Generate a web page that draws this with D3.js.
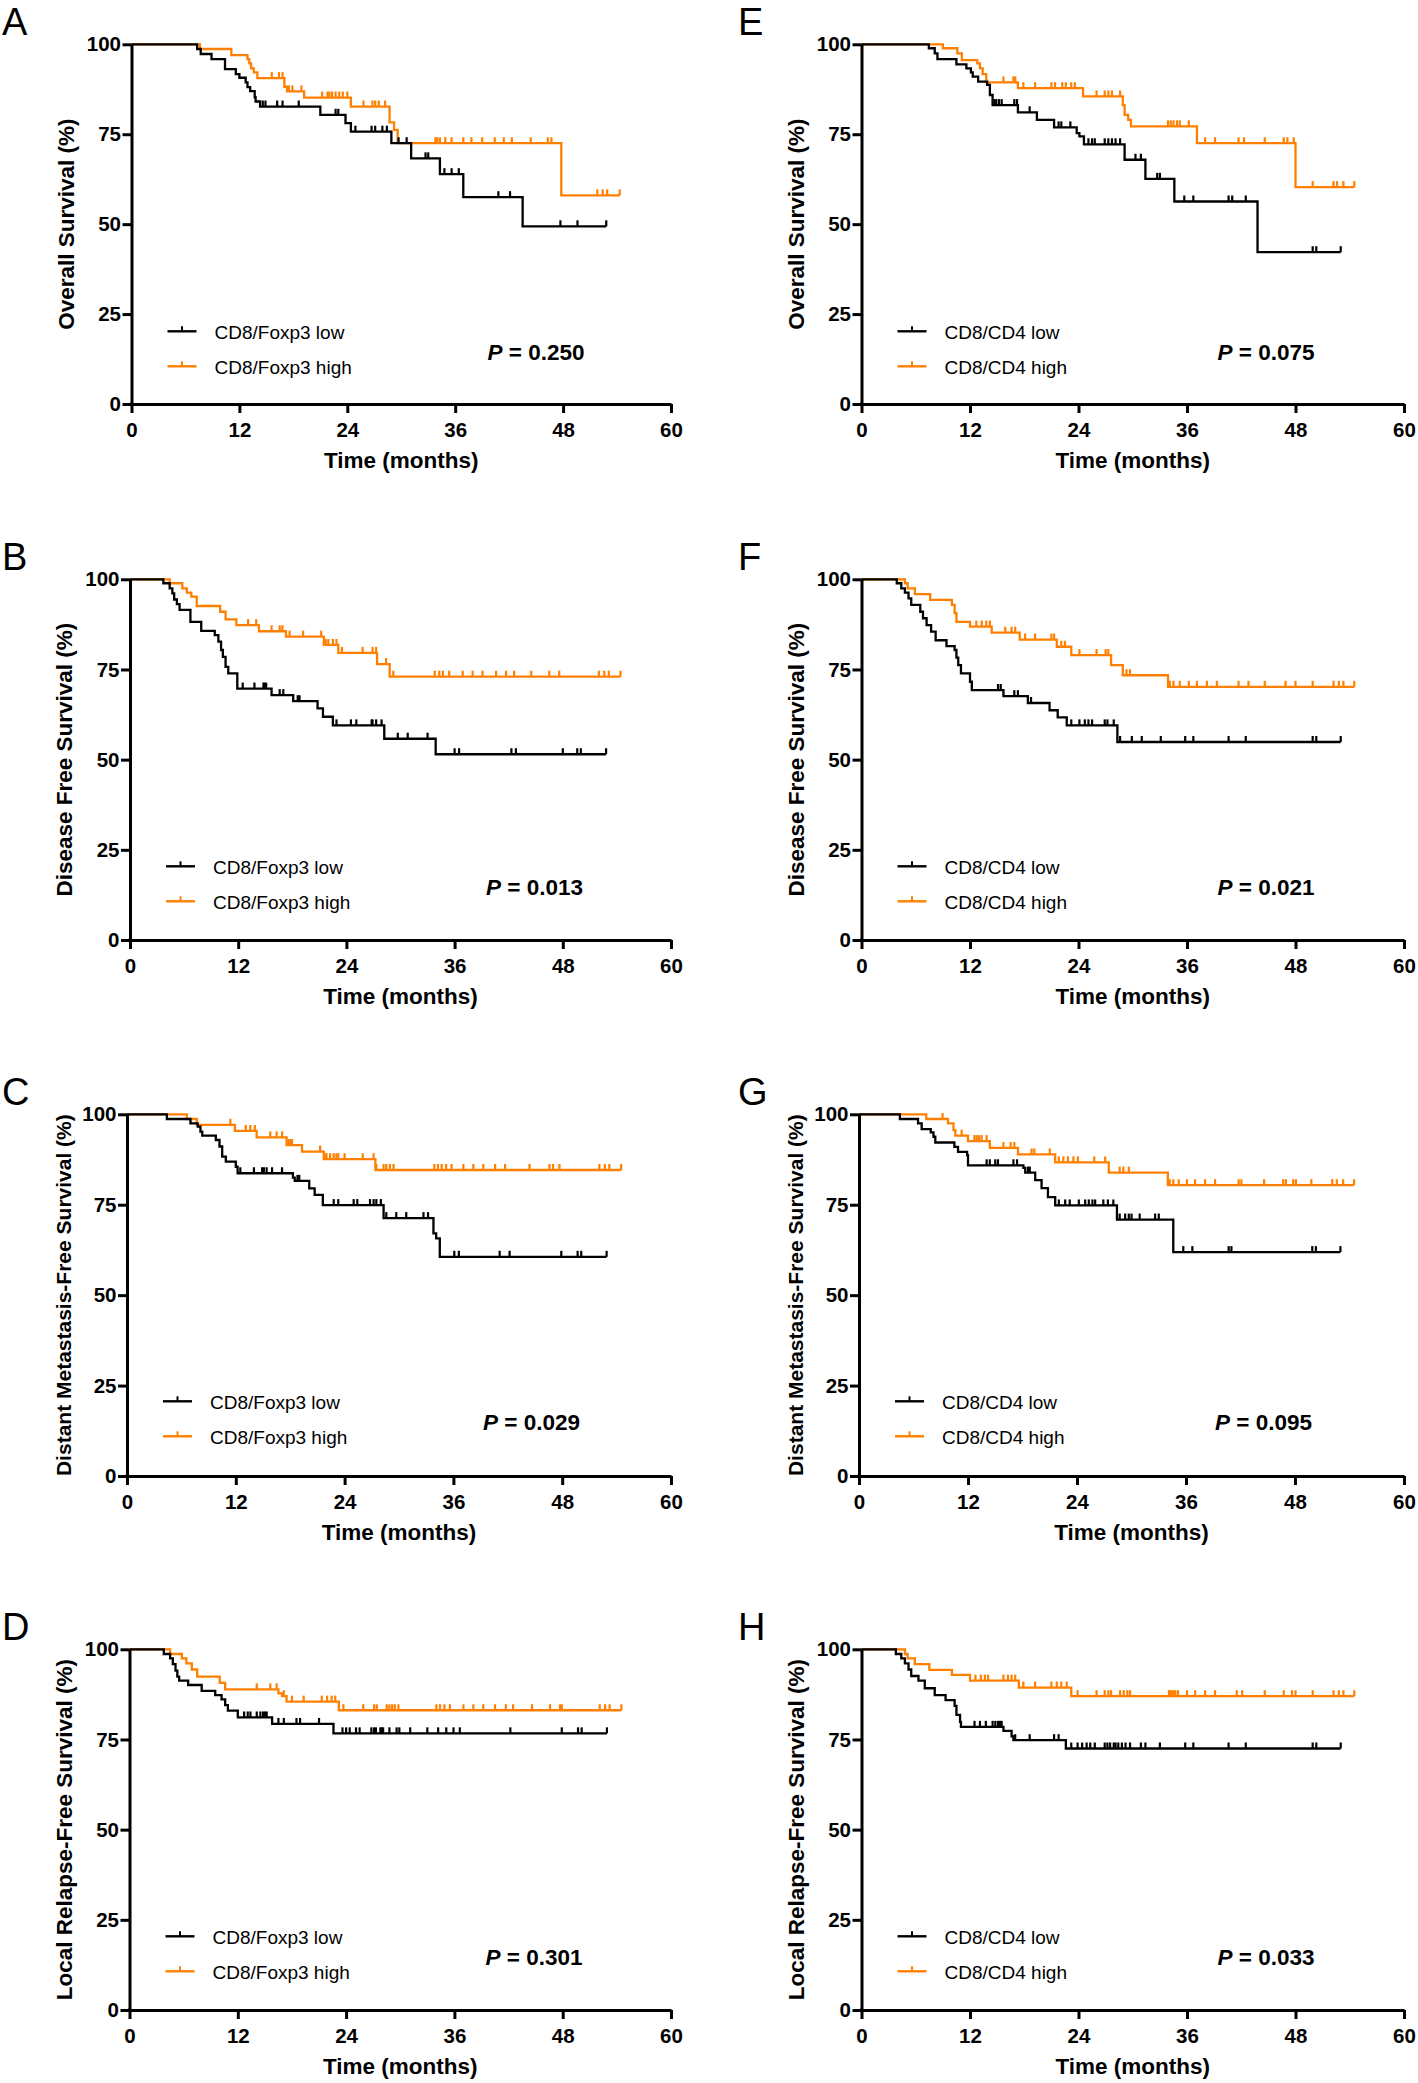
<!DOCTYPE html>
<html><head><meta charset="utf-8">
<script src="https://cdn.jsdelivr.net/npm/d3@7"></script>
<style>
body{margin:0;background:#fff}
svg{display:block}
text{font-family:"Liberation Sans",Arial,Helvetica,sans-serif;fill:#000}
</style>
</head><body>
<svg id="chart" width="1418" height="2083"></svg>
<script>
// ---------------- DATA ----------------
const xTicks = [0, 12, 24, 36, 48, 60];
const yTicks = [0, 25, 50, 75, 100];
const panelLetters = ["A", "B", "C", "D", "E", "F", "G", "H"];
const yTitles = ["Overall Survival (%)", "Disease Free Survival (%)", "Distant Metastasis-Free Survival (%)", "Local Relapse-Free Survival (%)"];
const legendLowLabels = ["CD8/Foxp3 low", "CD8/CD4 low"];
const legendHighLabels = ["CD8/Foxp3 high", "CD8/CD4 high"];
const pValues = ["0.250", "0.013", "0.029", "0.301", "0.075", "0.021", "0.095", "0.033"];

// steps: [time (months), survival (%) after the event]; cens: censor times; end: last follow-up
const A_lowSteps = [[7.3,98.7],[7.7,97.3],[8.9,95.9],[10.4,93.1],[11.6,91.7],[12.0,90.7],[12.7,89.4],[12.9,88.1],[13.2,87.0],[13.7,85.3],[13.8,84.1],[14.3,82.7],[21.0,80.4],[23.8,78.1],[24.4,75.7],[28.9,72.5],[31.1,68.3],[34.3,63.9],[36.9,57.5],[43.5,49.4]];
const A_lowCens = [14.6,14.9,16.2,16.8,18.6,22.7,23.0,24.9,26.7,27.1,27.9,28.4,29.7,30.6,32.7,33.0,34.8,35.6,36.4,40.8,42.1,47.7,49.6];
const A_lowEnd = 52.8;
const A_highSteps = [[7.6,98.7],[11.1,97.0],[12.9,95.9],[13.1,94.7],[13.3,93.3],[13.6,92.2],[14.0,90.6],[17.0,88.2],[17.3,86.9],[19.2,85.2],[24.4,82.7],[28.7,78.3],[29.2,76.2],[29.6,72.5],[47.8,58.0]];
const A_highCens = [15.6,16.4,16.8,17.5,17.9,18.9,21.2,21.8,22.0,22.3,22.7,23.1,23.5,24.0,25.8,26.8,27.1,27.5,28.2,33.8,34.0,34.3,34.9,35.6,36.9,37.8,39.0,40.4,41.4,42.3,44.4,46.3,46.7,51.8,52.4,52.9];
const A_highEnd = 54.3;

const B_lowSteps = [[3.7,98.9],[4.4,97.5],[4.7,96.1],[4.9,94.4],[5.2,93.1],[5.5,91.5],[6.7,88.2],[7.9,85.7],[9.4,84.5],[9.8,82.7],[10.1,80.4],[10.3,78.5],[10.6,75.7],[10.9,73.9],[11.9,69.7],[15.7,67.9],[18.1,66.2],[20.8,64.2],[21.4,61.9],[22.5,59.5],[28.2,55.8],[33.9,51.5]];
const B_lowCens = [12.5,13.8,14.8,14.9,15.1,16.6,17.0,18.6,18.8,22.9,24.5,25.1,26.8,26.9,27.3,27.9,29.7,30.8,33.0,36.0,36.5,42.3,42.8,48.0,49.6,50.0];
const B_lowEnd = 52.8;
const B_highSteps = [[4.4,98.9],[5.8,97.5],[6.3,96.3],[6.8,95.2],[7.4,92.6],[10.0,91.0],[10.6,88.9],[11.8,87.3],[14.3,85.6],[17.3,84.1],[21.5,81.8],[23.1,79.6],[27.4,76.5],[28.8,73.0]];
const B_highCens = [13.1,14.0,15.7,16.6,16.9,17.7,19.2,21.2,21.7,22.0,22.5,22.9,23.5,25.8,26.9,27.3,28.4,29.2,33.8,34.3,34.7,35.4,36.9,38.0,39.1,40.6,41.7,42.6,44.5,46.5,47.6,52.0,52.6,53.1];
const B_highEnd = 54.4;

const C_lowSteps = [[4.4,98.7],[7.0,97.5],[7.8,96.6],[8.1,95.2],[8.3,94.1],[9.8,92.9],[10.2,91.1],[10.5,88.3],[10.9,86.9],[12.0,85.5],[12.2,83.7],[18.3,82.5],[18.5,81.6],[20.1,79.5],[20.7,77.7],[21.6,74.9],[28.3,71.3],[33.8,67.1],[34.1,65.7],[34.5,60.6]];
const C_lowCens = [12.5,14.0,14.9,15.1,15.4,16.0,17.1,18.8,19.0,22.8,23.3,25.0,25.4,26.8,27.2,27.5,28.0,28.6,29.7,30.8,32.7,33.2,36.1,36.6,41.1,42.2,47.9,49.7,50.1];
const C_lowEnd = 52.9;
const C_highSteps = [[6.6,98.7],[7.7,97.1],[11.9,95.4],[14.3,93.6],[17.6,91.5],[19.3,89.7],[21.7,87.6],[27.4,84.6]];
const C_highCens = [11.4,13.1,13.6,14.1,15.8,16.5,17.1,17.8,18.0,18.2,21.3,21.8,22.0,22.4,22.8,23.1,23.3,24.0,26.0,27.2,27.5,28.3,28.6,29.0,29.4,33.9,34.3,34.7,35.2,35.8,37.1,38.2,39.3,40.6,41.7,44.4,46.6,47.0,47.7,52.1,52.7,53.2];
const C_highEnd = 54.5;

const D_lowSteps = [[3.8,98.7],[4.5,97.5],[4.8,95.9],[5.1,94.1],[5.3,92.4],[5.5,91.3],[6.5,90.1],[8.0,88.5],[9.5,87.3],[10.2,86.1],[10.6,84.5],[10.9,83.0],[12.0,81.1],[15.8,79.3],[22.6,76.7]];
const D_lowCens = [12.7,13.1,13.4,14.1,14.5,14.8,15.0,15.2,16.5,17.1,18.5,18.9,21.0,23.6,24.0,24.4,25.1,25.5,26.8,27.1,27.3,27.8,27.95,28.1,28.8,29.6,29.9,31.1,33.0,34.2,35.1,35.9,36.6,42.2,47.9,49.7,50.1];
const D_lowEnd = 52.9;
const D_highSteps = [[4.5,98.7],[5.8,97.5],[6.3,96.1],[6.9,94.4],[7.5,92.4],[10.0,90.7],[10.6,88.9],[16.5,87.8],[16.9,87.0],[17.4,85.5],[23.2,83.1]];
const D_highCens = [14.1,15.6,16.3,17.1,18.0,19.3,21.3,21.9,22.4,22.8,23.7,25.9,27.1,27.4,28.5,28.8,29.1,29.4,29.8,34.0,34.4,34.9,35.5,37.0,38.1,39.2,40.5,41.7,42.5,44.6,46.6,47.7,47.9,52.1,52.7,53.2];
const D_highEnd = 54.5;

const E_lowSteps = [[7.45,98.9],[8.1,97.5],[8.4,95.9],[10.5,94.4],[11.6,93.3],[12.1,92.2],[12.3,91.0],[12.9,89.6],[13.9,88.7],[14.2,85.9],[14.5,83.1],[17.3,81.1],[19.4,79.0],[21.3,76.9],[23.8,75.3],[24.1,74.4],[24.6,72.2],[29.1,67.9],[31.4,62.6],[34.6,56.3],[43.8,42.2]];
const E_lowCens = [14.7,14.9,15.2,15.5,16.9,17.2,18.6,21.8,22.1,23.1,25.1,25.5,25.8,26.9,27.3,27.7,28.1,28.6,30.3,30.9,32.7,33.0,35.7,36.7,40.6,41.0,42.5,49.9,50.3];
const E_lowEnd = 53.0;
const E_highSteps = [[9.0,98.9],[10.6,97.5],[11.1,95.6],[12.8,94.7],[13.1,93.3],[13.4,91.7],[13.8,89.4],[17.3,87.8],[24.5,85.5],[28.9,83.1],[29.1,80.4],[29.5,79.0],[29.8,77.2],[37.1,72.5],[48.0,60.3]];
const E_highCens = [15.7,16.8,17.0,17.9,19.2,21.0,21.4,22.2,22.6,23.2,23.6,26.0,26.9,27.3,27.7,28.6,33.9,34.2,34.5,34.9,35.2,36.2,38.0,39.1,41.7,42.3,44.6,46.7,47.1,47.8,49.9,52.2,52.6,53.3];
const E_highEnd = 54.5;

const F_lowSteps = [[3.9,98.9],[4.4,97.5],[4.8,96.3],[5.2,94.7],[5.5,92.9],[6.5,91.0],[6.8,89.2],[7.2,87.3],[7.7,85.5],[8.2,83.1],[9.4,81.5],[10.3,80.4],[10.5,78.3],[10.7,76.2],[11.0,73.9],[12.0,71.6],[12.2,69.3],[15.7,67.6],[18.4,65.7],[20.8,63.7],[21.7,61.7],[22.7,59.5],[28.3,54.9]];
const F_lowCens = [15.1,15.4,16.9,17.3,18.75,23.2,24.1,24.7,25.1,25.5,26.9,27.2,27.9,28.6,29.9,31.0,33.1,35.8,36.7,40.6,42.5,49.9,50.3];
const F_lowEnd = 53.0;
const F_highSteps = [[4.8,98.9],[5.1,97.5],[5.9,95.9],[7.6,94.3],[10.0,92.9],[10.3,90.6],[10.5,88.2],[12.0,86.9],[14.4,85.2],[17.5,83.3],[21.6,81.3],[23.2,79.0],[27.6,76.2],[28.9,73.4],[33.9,70.2]];
const F_highCens = [12.7,13.3,13.8,14.2,15.9,16.6,17.0,18.1,19.2,21.0,21.3,22.1,22.5,24.1,26.0,27.0,27.3,29.3,29.7,34.1,34.5,35.2,36.2,37.1,38.2,39.3,41.7,42.8,44.6,46.9,48.0,49.9,52.2,52.8,53.3];
const F_highEnd = 54.5;

const G_lowSteps = [[4.5,98.7],[6.5,97.5],[6.9,95.9],[7.9,95.0],[8.2,93.8],[8.4,92.2],[10.5,91.0],[10.9,89.6],[11.9,88.7],[12.0,85.9],[18.1,85.2],[18.3,83.9],[19.4,81.8],[20.1,79.6],[20.8,77.1],[21.6,74.8],[28.4,70.9],[34.6,61.9]];
const G_lowCens = [14.05,14.4,15.0,15.3,17.0,17.4,18.6,18.8,22.0,22.7,23.2,24.2,24.9,25.3,25.7,26.0,26.9,27.4,28.0,28.7,29.3,29.7,30.0,30.9,32.6,33.0,35.7,36.7,40.7,41.0,49.9,50.3];
const G_lowEnd = 53.0;
const G_highSteps = [[7.4,98.7],[9.8,97.5],[10.4,95.6],[10.6,94.1],[12.0,92.6],[14.4,90.7],[17.5,88.9],[21.6,86.7],[27.5,83.9],[34.0,80.4]];
const G_highCens = [9.2,11.3,12.7,12.95,13.2,13.5,14.05,15.9,16.7,17.1,19.0,19.3,21.0,22.0,22.5,23.0,23.6,24.1,25.9,27.1,28.7,29.1,29.7,34.2,34.6,35.2,36.1,37.0,38.1,39.2,41.8,42.1,44.6,46.7,47.0,47.8,48.1,49.8,52.1,52.6,53.3];
const G_highEnd = 54.5;

const H_lowSteps = [[3.8,98.7],[4.4,97.5],[4.8,96.1],[5.2,94.4],[5.5,92.6],[6.3,91.3],[7.0,89.2],[8.1,87.3],[9.3,85.9],[10.3,84.3],[10.5,81.8],[10.9,79.9],[11.0,78.5],[15.7,77.4],[16.6,75.9],[16.8,74.8],[22.6,72.5]];
const H_lowCens = [12.5,13.1,13.75,14.5,14.8,15.1,15.3,15.5,17.0,18.6,21.3,21.8,23.2,23.9,24.4,24.9,25.3,25.8,26.9,27.2,27.5,27.9,28.1,28.4,28.8,29.2,29.7,30.9,31.4,33.0,35.8,36.7,40.6,42.5,49.9,50.3];
const H_lowEnd = 53.0;
const H_highSteps = [[4.8,98.7],[5.1,97.5],[5.9,95.9],[7.5,94.3],[10.0,92.9],[12.0,91.3],[17.4,89.4],[23.2,87.0]];
const H_highCens = [12.6,13.2,13.65,14.0,15.7,16.2,16.6,17.0,17.9,19.2,21.0,21.6,22.1,22.7,23.9,26.0,26.9,27.3,27.6,28.6,29.0,29.4,29.7,34.0,34.1,34.3,34.5,34.7,35.0,36.0,36.9,38.0,39.1,41.5,42.1,44.6,46.7,47.6,48.0,49.9,52.2,52.8,53.3];
const H_highEnd = 54.5;

// table built from the arrays above
const panelData = [
  {low:[A_lowSteps,A_lowCens,A_lowEnd], high:[A_highSteps,A_highCens,A_highEnd]},
  {low:[B_lowSteps,B_lowCens,B_lowEnd], high:[B_highSteps,B_highCens,B_highEnd]},
  {low:[C_lowSteps,C_lowCens,C_lowEnd], high:[C_highSteps,C_highCens,C_highEnd]},
  {low:[D_lowSteps,D_lowCens,D_lowEnd], high:[D_highSteps,D_highCens,D_highEnd]},
  {low:[E_lowSteps,E_lowCens,E_lowEnd], high:[E_highSteps,E_highCens,E_highEnd]},
  {low:[F_lowSteps,F_lowCens,F_lowEnd], high:[F_highSteps,F_highCens,F_highEnd]},
  {low:[G_lowSteps,G_lowCens,G_lowEnd], high:[G_highSteps,G_highCens,G_highEnd]},
  {low:[H_lowSteps,H_lowCens,H_lowEnd], high:[H_highSteps,H_highCens,H_highEnd]}
];

// ---------------- LAYOUT ----------------
const svg = d3.select("#chart");
svg.append("rect").attr("width",1418).attr("height",2083).attr("fill","#fff");
const colX0 = [[131.5,130,127,129.5],[861.5,861.5,859,861.5]];
const colX60 = [671, 1404];
const rowTop = [44.3, 579.3, 1114.3, 1649.3];
const rowBot = [404, 940, 1476, 2010];
const letterX = [2, 738];
const yTitleSize = [22.5, 22.5, 21, 22.5];
const yTitleOff = [58, 58, 56, 58];
const BLACK = "#000", ORANGE = "#ff8000";

function survAt(steps, t){ let s = 100; for (const [tt, v] of steps) if (tt <= t) s = v; return s; }

function drawPanel(idx){
  const col = Math.floor(idx/4), row = idx%4;
  const x0 = colX0[col][row], x1 = colX60[col];
  const y100 = rowTop[row], y0 = rowBot[row];
  const x = d3.scaleLinear().domain([0,60]).range([x0,x1]);
  const y = d3.scaleLinear().domain([0,100]).range([y0,y100]);
  const g = svg.append("g");

  // panel letter
  g.append("text").attr("x", letterX[col]).attr("y", y100-9)
    .attr("font-size", 38).text(panelLetters[idx]);

  // curves
  const line = d3.line().x(d=>x(d[0])).y(d=>y(d[1])).curve(d3.curveStepAfter);
  const series = [[panelData[idx].high, ORANGE], [panelData[idx].low, BLACK]];
  for (const [[steps, cens, end], color] of series){
    const pts = [[0,100], ...steps, [end, steps[steps.length-1][1]]];
    g.append("path").attr("d", line(pts)).attr("fill","none")
      .attr("stroke", color).attr("stroke-width", 2.3).attr("stroke-linejoin","miter");
    g.append("g").selectAll("line").data([...cens, end]).join("line")
      .attr("x1", d=>x(d)).attr("x2", d=>x(d))
      .attr("y1", d=>y(survAt(steps,d))).attr("y2", d=>y(survAt(steps,d))-6)
      .attr("stroke", color).attr("stroke-width", 2.2);
  }

  // axes
  const ax = g.append("g").attr("transform",`translate(0,${y0})`)
    .call(d3.axisBottom(x).tickValues(xTicks).tickSize(9).tickSizeOuter(0).tickPadding(9));
  const ay = g.append("g").attr("transform",`translate(${x0},0)`)
    .call(d3.axisLeft(y).tickValues(yTicks).tickSize(9).tickSizeOuter(0).tickPadding(1.5));
  for (const a of [ax, ay]){
    a.select(".domain").attr("stroke","#000").attr("stroke-width",3);
    a.selectAll(".tick line").attr("stroke","#000").attr("stroke-width",3);
    a.selectAll(".tick text").attr("font-size",20.5).attr("font-weight","bold")
      .attr("font-family",'"Liberation Sans",Arial,sans-serif').attr("fill","#000");
  }
  // square the axis corner
  g.append("rect").attr("x", x0-1.5).attr("y", y0-1.5).attr("width",3).attr("height",3).attr("fill","#000");

  // axis titles
  g.append("text").attr("x",(x0+x1)/2).attr("y", y0+64).attr("text-anchor","middle")
    .attr("font-size",22.5).attr("font-weight","bold").text("Time (months)");
  g.append("text").attr("transform",`translate(${x0-yTitleOff[row]},${(y0+y100)/2}) rotate(-90)`)
    .attr("text-anchor","middle").attr("font-size",yTitleSize[row]).attr("font-weight","bold")
    .text(yTitles[row]);

  // legend
  const legs = [[legendLowLabels[col], BLACK, 287], [legendHighLabels[col], ORANGE, 322]];
  for (const [lab, color, dy] of legs){
    const ly = y100 + dy;
    g.append("line").attr("x1",x0+36).attr("x2",x0+65).attr("y1",ly).attr("y2",ly)
      .attr("stroke",color).attr("stroke-width",2.4);
    g.append("line").attr("x1",x0+50.5).attr("x2",x0+50.5).attr("y1",ly).attr("y2",ly-5)
      .attr("stroke",color).attr("stroke-width",2);
    g.append("text").attr("x",x0+83).attr("y",ly+8).attr("font-size",19).text(lab);
  }

  // p-value
  const pt = g.append("text").attr("x",x0+356).attr("y",y100+316)
    .attr("font-size",22.5).attr("font-weight","bold");
  pt.append("tspan").attr("font-style","italic").text("P");
  pt.append("tspan").text(" = " + pValues[idx]);
}

for (let i = 0; i < 8; i++) drawPanel(i);
</script>
</body></html>
